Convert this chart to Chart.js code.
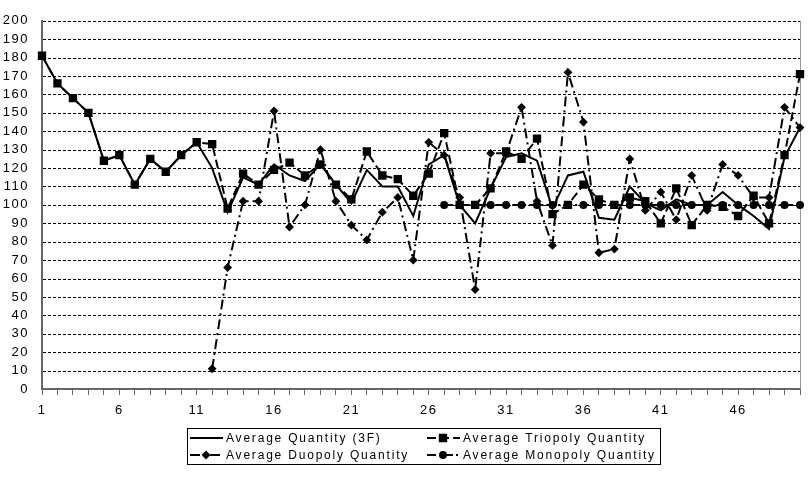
<!DOCTYPE html>
<html>
<head>
<meta charset="utf-8">
<script src="https://cdn.jsdelivr.net/npm/chart.js@4.4.1/dist/chart.umd.min.js"></script>
<style>
  html, body { margin: 0; padding: 0; background: #fff; }
</style>
</head>
<body>
<canvas id="chart" width="808" height="498"></canvas>
<script>
// Periodes 1..50
const periods = [1, 2, 3, 4, 5, 6, 7, 8, 9, 10, 11, 12, 13, 14, 15, 16, 17, 18, 19, 20,
                 21, 22, 23, 24, 25, 26, 27, 28, 29, 30, 31, 32, 33, 34, 35, 36, 37, 38, 39, 40,
                 41, 42, 43, 44, 45, 46, 47, 48, 49, 50];

const yTicks = [0, 10, 20, 30, 40, 50, 60, 70, 80, 90, 100, 110, 120, 130, 140, 150, 160, 170, 180, 190, 200];

const avgQuantity3F = [181, 166, 158, 150, 124, 127, 111, 125, 118, 127, 134, 120, 96, 115, 111, 122, 116, 113, 122, 111,
                       101, 119, 110, 110, 94, 122, 127, 100, 90, 109, 126, 128, 124, 98, 116, 118, 93, 92, 110, 101,
                       97, 103, 100, 100, 107, 100, 94, 87, 126, 142];

const avgTriopoly = [181, 166, 158, 150, 124, 127, 111, 125, 118, 127, 134, 133, 98, 117, 111, 119, 123, 116, 122, 111,
                     103, 129, 116, 114, 105, 117, 139, 100, 100, 109, 129, 125, 136, 95, 100, 111, 103, 100, 104, 102,
                     90, 109, 89, 100, 99, 94, 105, 90, 127, 171];

const avgDuopoly = [null, null, null, null, null, null, null, null, null, null, null, 11, 66, 102, 102, 151, 88, 100, 130, 102,
                    89, 81, 96, 104, 70, 134, 127, 104, 54, 128, 128, 153, 102, 78, 172, 145, 74, 76, 125, 97,
                    107, 92, 116, 97, 122, 116, 104, 104, 153, 142];

const avgMonopoly = [null, null, null, null, null, null, null, null, null, null, null, null, null, null, null, null, null, null, null, null,
                     null, null, null, null, null, null, 100, 100, 100, 100, 100, 100, 100, 100, 100, 100, 100, 100, 100, 100,
                     100, 100, 100, 100, 100, 100, 100, 100, 100, 100];

const FONT = '"Liberation Sans", Arial, sans-serif';

// Espacement des lettres facon Excel
const spacing = {
  id: 'spacing',
  beforeUpdate(chart) { chart.ctx.letterSpacing = '1.5px'; },
  beforeDraw(chart) { chart.ctx.letterSpacing = '1.5px'; },
};

// Quadrillage en pointilles + bord droit de la zone de trace
const dottedGrid = {
  id: 'dottedGrid',
  beforeDatasetsDraw(chart) {
    const { ctx, chartArea: a, scales: { y } } = chart;
    ctx.save();
    ctx.strokeStyle = '#000';
    ctx.lineWidth = 1;
    ctx.setLineDash([3, 2]);
    yTicks.forEach(v => {
      if (v === 0) return;
      const py = Math.round(y.getPixelForValue(v)) + 0.5;
      ctx.beginPath();
      ctx.moveTo(a.left + 1, py);
      ctx.lineTo(a.right, py);
      ctx.stroke();
    });
    ctx.setLineDash([]);
    ctx.strokeStyle = '#999';
    ctx.beginPath();
    ctx.moveTo(a.right + 0.5, a.top);
    ctx.lineTo(a.right + 0.5, a.bottom);
    ctx.stroke();
    ctx.restore();
  },
};

// Legende encadree sur deux colonnes
const boxLegend = {
  id: 'boxLegend',
  afterDraw(chart) {
    const ctx = chart.ctx;
    ctx.save();
    ctx.strokeStyle = '#000';
    ctx.lineWidth = 1;
    ctx.setLineDash([]);
    ctx.strokeRect(187.5, 428.5, 473, 36);
    ctx.font = '12px ' + FONT;
    ctx.letterSpacing = '1.8px';
    ctx.textBaseline = 'middle';
    const slots = [[190, 438], [427, 438], [190, 455], [427, 455]];
    chart.data.datasets.forEach((ds, i) => {
      const [x, y] = slots[i];
      ctx.beginPath();
      ctx.setLineDash(ds.borderDash || []);
      ctx.lineWidth = ds.borderWidth;
      ctx.strokeStyle = '#000';
      ctx.moveTo(x, y);
      ctx.lineTo(x + 33, y);
      ctx.stroke();
      ctx.setLineDash([]);
      ctx.fillStyle = '#000';
      if (ds.pointRadius) {
        Chart.helpers.drawPoint(ctx, { pointStyle: ds.pointStyle, radius: ds.pointRadius, borderWidth: 1 }, x + 16, y);
      }
      ctx.fillStyle = '#000';
      ctx.fillText(ds.label, x + 36, y + 1);
    });
    ctx.restore();
  },
};

new Chart(document.getElementById('chart'), {
  type: 'line',
  data: {
    labels: periods,
    datasets: [
      { label: 'Average Quantity (3F)', data: avgQuantity3F, borderColor: '#000', borderWidth: 2,
        pointRadius: 0, tension: 0 },
      { label: 'Average Triopoly Quantity', data: avgTriopoly, borderColor: '#000', borderWidth: 2,
        borderDash: [9, 4], pointStyle: 'rect', pointRadius: 4.5, backgroundColor: '#000', pointBorderColor: '#000', tension: 0 },
      { label: 'Average Duopoly Quantity', data: avgDuopoly, borderColor: '#000', borderWidth: 2,
        borderDash: [10, 4, 2, 4], pointStyle: 'rectRot', pointRadius: 3, backgroundColor: '#000', pointBorderColor: '#000', tension: 0 },
      { label: 'Average Monopoly Quantity', data: avgMonopoly, borderColor: '#000', borderWidth: 2,
        borderDash: [9, 3, 2, 3], pointStyle: 'circle', pointRadius: 3, backgroundColor: '#000', pointBorderColor: '#000', tension: 0 },
    ],
  },
  options: {
    responsive: false,
    animation: false,
    spanGaps: false,
    layout: { padding: { left: 0, right: 2, top: 10, bottom: 0 } },
    plugins: {
      legend: { display: false },
      tooltip: { enabled: false },
    },
    scales: {
      x: {
        type: 'category',
        offset: false,
        afterFit: s => { s.height = 109; },
        grid: { drawOnChartArea: false, drawTicks: true, tickLength: 6, color: '#666', lineWidth: 1 },
        border: { display: true, color: '#666', width: 2 },
        ticks: {
          autoSkip: false, maxRotation: 0, padding: 8, color: '#000',
          font: { family: FONT, size: 13 },
          callback: (v, i) => (i % 5 === 0 ? periods[i] : ''),
        },
      },
      y: {
        min: 0, max: 200,
        afterFit: s => { s.width = 42; },
        afterBuildTicks: s => { s.ticks = yTicks.map(v => ({ value: v })); },
        grid: { drawOnChartArea: false, drawTicks: false },
        border: { display: true, color: '#666', width: 2 },
        ticks: { autoSkip: false, padding: 13, color: '#000', font: { family: FONT, size: 13 } },
      },
    },
  },
  plugins: [spacing, dottedGrid, boxLegend],
});
</script>
</body>
</html>
